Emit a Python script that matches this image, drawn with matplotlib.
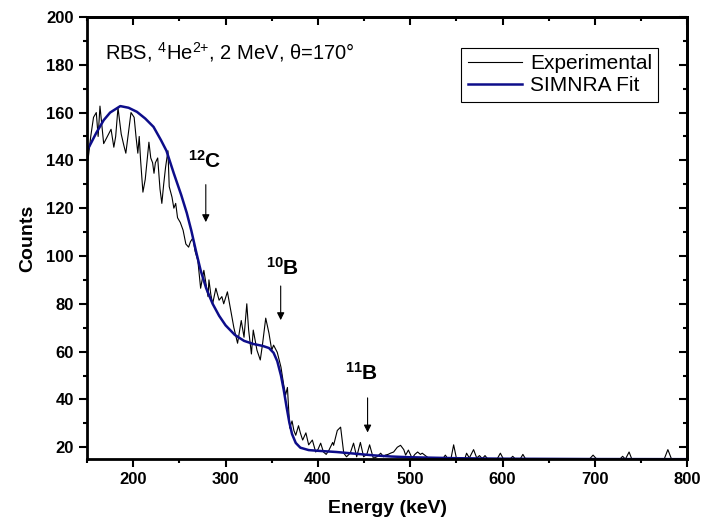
import matplotlib
matplotlib.use("Agg")
import matplotlib.pyplot as plt
from matplotlib.ticker import MultipleLocator

plt.rcParams['font.family'] = ['Liberation Sans', 'DejaVu Sans']
plt.rcParams['mathtext.fontset'] = 'custom'
plt.rcParams['mathtext.rm'] = 'Liberation Sans:normal'
plt.rcParams['mathtext.it'] = 'Liberation Sans:italic'
plt.rcParams['mathtext.bf'] = 'Liberation Sans:bold'

# experimental RBS spectrum
exp_energy = [150, 151, 154, 157, 160, 162, 164, 166, 168, 172, 176, 179, 181, 183.5, 187, 190, 192, 195,
              197.6, 201, 203, 205, 206.5, 208, 210.5, 213, 217, 219, 221, 222.5, 224, 226.5, 229, 231, 233,
              235, 237.6, 239, 242, 244, 246, 248, 251, 254, 257, 260, 262, 264.6, 267, 270, 273, 276.5,
              279, 281, 282, 284, 286, 289.5, 293, 296, 298, 302, 305.7, 309, 313, 317, 320, 323, 325, 328,
              330, 334, 337.6, 340, 343.5, 347, 350, 352, 356, 360, 363, 365, 367, 369.5, 372, 374, 376, 379,
              381, 383.5, 387, 390, 394, 397.6, 400, 403, 406, 409, 412, 416, 417, 421, 424.6, 428, 431, 435,
              438.6, 442, 446, 449.5, 453, 456, 460, 464, 468, 471, 473, 476, 478.6, 482, 486, 489.5, 493,
              495, 498, 502, 505, 508, 511, 513, 518.7, 522, 535, 538, 541, 544, 547, 550, 555, 559, 561,
              564, 568.6, 572, 575, 578, 581, 584, 594, 597.6, 601, 608, 611, 614, 619, 622, 625, 694, 698,
              702, 727, 730, 733, 737, 740, 775, 779, 783, 800]
exp_counts = [150, 140, 150, 158, 160, 150, 162.7, 155, 147, 150, 153, 145.5, 150, 162, 151, 146, 143, 152,
              160, 158, 150, 143, 150, 140, 126.7, 132, 147.6, 141, 139, 134.6, 139, 141, 128, 122, 130,
              137, 144, 129, 124.6, 120, 122, 116, 114, 110.8, 105, 103.7, 106, 107.5, 102, 98, 86.5, 94,
              88, 83, 90, 84, 80, 86.5, 81.5, 83, 80, 85, 77, 70, 63.5, 73, 66, 80, 69, 59,
              69, 60.6, 56.5, 63, 74, 67.7, 60.6, 62.7, 59.7, 53.5, 46, 41.8, 45, 28, 31, 27, 25, 29,
              26, 23, 26, 21, 23, 18, 19, 21.7, 18, 17, 18.8, 22, 20.8, 27, 28.4, 17.5, 16, 17.5,
              21.7, 16, 22, 16, 17, 21, 15.4, 16, 17.5, 16, 16.7, 17, 17.5, 18, 20, 20.8, 19,
              16.7, 18.8, 15.4, 17, 18, 17, 17.5, 15.8, 15, 15, 16.7, 15, 15, 21, 15.4, 15, 15, 17.5,
              15.5, 19, 15.5, 16.5, 15.2, 16.5, 15, 15, 17.5, 15, 15, 16.2, 15, 15, 17, 15, 15, 16.7,
              15, 15, 16.2, 15, 18, 15, 15, 19, 15, 15]

# SIMNRA fit
fit_energy = [150, 160, 168, 175, 186, 195, 204, 213, 222, 230, 236, 244, 252, 258, 263, 268, 273, 279,
              286, 293, 300, 310, 320, 330, 340, 347, 352, 356, 360, 363, 366, 369, 372, 376, 381, 390,
              400, 420, 440, 460, 480, 500, 550, 600, 700, 800]
fit_counts = [144, 151.5, 156.8, 160, 162.7, 162, 160.3, 157.5, 154, 148.5, 144, 134.5, 125.5, 118, 110.5,
              102, 94, 86.5, 80, 75, 71, 67, 64.5, 63.2, 62.4, 61.5, 59.5, 56, 50, 44, 37, 30.5, 25.5,
              21.8, 19.8, 18.8, 18.5, 18.0, 17.3, 16.6, 16.1, 15.8, 15.4, 15.2, 15.05, 15.0]

# element edges: label, arrow x, arrow top, arrow tip, label x, label y
edge_names = [r'$\mathbf{^{12}C}$', r'$\mathbf{^{10}B}$', r'$\mathbf{^{11}B}$']
edge_x = [278.6, 359.7, 453.8]
edge_top = [131, 88.6, 41.8]
edge_tip = [113, 72, 25]
label_x = [277.6, 362, 447]
label_y = [140, 95, 51]

fig = plt.figure(figsize=(7.02, 5.29), dpi=100)
ax = fig.add_axes([0.124, 0.132, 0.855, 0.836])

ax.plot(exp_energy, exp_counts, color='black', lw=0.8, label='Experimental')
ax.plot(fit_energy, fit_counts, color='#0d0d8a', lw=1.8, label='SIMNRA Fit')

for name, x, top, tip, lx, ly in zip(edge_names, edge_x, edge_top, edge_tip, label_x, label_y):
    ax.annotate('', xy=(x, tip), xytext=(x, top),
                arrowprops=dict(arrowstyle='-|>', color='black', lw=0.8, mutation_scale=11))
    ax.text(lx, ly, name, fontsize=15, ha='center', va='center')

ax.text(0.03, 0.921, r'RBS, $^{4}$He$^{2{+}}$, 2 MeV, θ=170°', transform=ax.transAxes,
        fontsize=14.5, va='center', ha='left')

ax.set_xlim(150, 800)
ax.set_ylim(15, 200)
ax.xaxis.set_major_locator(MultipleLocator(100))
ax.xaxis.set_minor_locator(MultipleLocator(50))
ax.yaxis.set_major_locator(MultipleLocator(20))
ax.yaxis.set_minor_locator(MultipleLocator(10))
ax.set_yticks(range(20, 201, 20))

for sp in ax.spines.values():
    sp.set_linewidth(2.0)
ax.tick_params(which='both', direction='out', width=1.5, top=False, right=False)
ax.tick_params(which='major', length=6, labelsize=12)
ax.tick_params(which='minor', length=3)

# mirrored inward ticks on top and right
secx = ax.secondary_xaxis('top')
secx.xaxis.set_major_locator(MultipleLocator(100))
secx.xaxis.set_minor_locator(MultipleLocator(50))
secx.tick_params(which='both', direction='in', width=1.5, labeltop=False)
secx.tick_params(which='major', length=6)
secx.tick_params(which='minor', length=3)
secx.spines['top'].set_linewidth(2.0)
secy = ax.secondary_yaxis('right')
secy.yaxis.set_major_locator(MultipleLocator(20))
secy.yaxis.set_minor_locator(MultipleLocator(10))
secy.tick_params(which='both', direction='in', width=1.5, labelright=False)
secy.tick_params(which='major', length=6)
secy.tick_params(which='minor', length=3)
secy.spines['right'].set_linewidth(2.0)

ax.set_xlabel('Energy (keV)', fontsize=14, fontweight='bold', labelpad=9)
ax.set_ylabel('Counts', fontsize=14, fontweight='bold', labelpad=7)

leg = ax.legend(loc='upper right', bbox_to_anchor=(0.952, 0.93), fancybox=False,
                prop={'size': 15},
                framealpha=1, edgecolor='black', handlelength=2.6, borderpad=0.3,
                labelspacing=0.15, handletextpad=0.4, borderaxespad=0)
leg.get_frame().set_linewidth(0.8)

fig.canvas.draw()
for lab in ax.get_xticklabels() + ax.get_yticklabels():
    lab.set_fontweight('bold')

fig.savefig('out.png', dpi=100)
